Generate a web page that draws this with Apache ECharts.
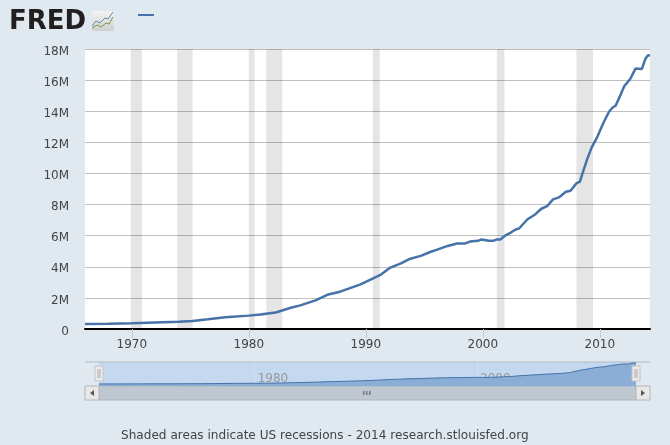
<!DOCTYPE html>
<html>
<head>
<meta charset="utf-8">
<style>
html, body { margin: 0; padding: 0; background: #e0e8f0; }
#mychart { width: 670px; height: 445px; }
</style>
<script src="https://cdn.jsdelivr.net/npm/echarts@6/dist/echarts.min.js"></script>
</head>
<body>
<div id="mychart"></div>
<script>
"use strict";
const years = [1966, 1968, 1970, 1972, 1974, 1975.2, 1976.5, 1978, 1980, 1981, 1982.3, 1983.6, 1984.4, 1985.7, 1986.8, 1987.8, 1989.5, 1990.4, 1991.3, 1992.1, 1993, 1993.8, 1994.7, 1995.5, 1996.1, 1997, 1997.8, 1998.5, 1998.9, 1999.6, 1999.9, 2000.5, 2000.9, 2001.2, 2001.5, 2001.9, 2002.4, 2002.8, 2003.1, 2003.8, 2004.5, 2005, 2005.5, 2006, 2006.5, 2007.1, 2007.5, 2008, 2008.3, 2008.5, 2008.9, 2009.3, 2009.8, 2010.3, 2010.8, 2011.1, 2011.35, 2011.8, 2012.1, 2012.6, 2013.05, 2013.6, 2013.9, 2014.1, 2014.29];
const values = [0.32, 0.34, 0.37, 0.42, 0.47, 0.51, 0.62, 0.75, 0.86, 0.93, 1.06, 1.37, 1.52, 1.84, 2.22, 2.4, 2.85, 3.17, 3.5, 3.95, 4.22, 4.52, 4.7, 4.95, 5.1, 5.34, 5.5, 5.5, 5.62, 5.67, 5.76, 5.67, 5.67, 5.76, 5.76, 6.0, 6.2, 6.4, 6.46, 7.04, 7.38, 7.73, 7.9, 8.33, 8.46, 8.82, 8.89, 9.36, 9.47, 9.95, 10.87, 11.66, 12.37, 13.24, 13.98, 14.24, 14.35, 15.1, 15.62, 16.07, 16.74, 16.72, 17.38, 17.58, 17.6];
const recessions = [[1969.9, 1970.87], [1973.87, 1975.2], [1980, 1980.5], [1981.5, 1982.87], [1990.6, 1991.2], [2001.2, 2001.85], [2008, 2009.42]];
const mainTicks = [1970, 1980, 1990, 2000, 2010];
const navTicks = [1980, 2000];
const footer = 'Shaded areas indicate US recessions - 2014 research.stlouisfed.org';

const container = document.getElementById('mychart');
const myChart = echarts.init(container);
const font = '"DejaVu Sans", Verdana, sans-serif';
const lineData = years.map((y, i) => [y, values[i]]);

const option = {
    animation: false,
    backgroundColor: '#e0e8f0',
    textStyle: { fontFamily: font },
    legend: {
        left: 138,
        top: 14,
        padding: 0,
        data: ['main'],
        icon: 'rect',
        itemWidth: 16,
        itemHeight: 2,
        formatter: () => '',
        selectedMode: false
    },
    grid: [
        { left: 85, right: 20, top: 49, height: 280, show: true, backgroundColor: '#fff', borderWidth: 0 },
        { left: 99, width: 537, top: 362, height: 24, show: true, backgroundColor: '#c4d8f0', borderWidth: 0 }
    ],
    xAxis: [
        {
            type: 'value',
            gridIndex: 0,
            min: 1966,
            max: 2014.29,
            splitLine: { show: false },
            axisLine: { onZero: false, lineStyle: { color: '#000', width: 2 } },
            axisTick: { length: 9, customValues: mainTicks, lineStyle: { color: '#c0d0e0' } },
            axisLabel: { customValues: mainTicks, color: '#444', fontSize: 12, margin: 10, formatter: v => String(v) }
        },
        {
            type: 'value',
            gridIndex: 1,
            min: 1966,
            max: 2014.29,
            axisLine: { show: false },
            axisTick: { show: false, customValues: navTicks },
            splitLine: { show: true, lineStyle: { color: '#d0dff2' } },
            axisLabel: {
                inside: true,
                customValues: navTicks,
                color: '#999',
                fontSize: 12,
                margin: 1,
                align: 'left',
                padding: [0, 0, 0, 3],
                formatter: v => String(v)
            }
        }
    ],
    yAxis: [
        {
            type: 'value',
            gridIndex: 0,
            min: 0,
            max: 18,
            interval: 2,
            axisLine: { show: false },
            axisTick: { show: false },
            splitLine: { lineStyle: { color: '#c0c0c0' } },
            axisLabel: {
                margin: 16,
                formatter: v => '{a|' + (v === 0 ? '0' : v + 'M') + '}',
                rich: { a: { color: '#444', fontSize: 12, padding: [5, 0, 0, 0] } }
            }
        },
        {
            type: 'value',
            gridIndex: 1,
            min: -1.4,
            max: 18.4,
            axisLine: { show: false },
            axisTick: { show: false },
            axisLabel: { show: false },
            splitLine: { show: false }
        }
    ],
    series: [
        {
            name: 'main',
            type: 'line',
            xAxisIndex: 0,
            yAxisIndex: 0,
            data: lineData,
            showSymbol: false,
            z: 5,
            lineStyle: { color: '#4572a7', width: 2.5 },
            itemStyle: { color: '#4572a7' },
            markArea: {
                silent: true,
                itemStyle: { color: 'rgba(0,0,0,0.1)' },
                data: recessions.map(r => [{ xAxis: r[0] }, { xAxis: r[1] }])
            }
        },
        {
            name: 'navigator',
            type: 'line',
            xAxisIndex: 1,
            yAxisIndex: 1,
            data: lineData,
            showSymbol: false,
            lineStyle: { color: '#4572a7', width: 1 },
            itemStyle: { color: '#4572a7' },
            areaStyle: { color: '#8aaed6', opacity: 1, origin: 'start' }
        }
    ],
    graphic: [
        // logo
        { type: 'text', left: 9, top: 9, style: { text: 'FRED', fontFamily: font, fontWeight: 'bold', fontSize: 26, fill: '#231f20' } },
        {
            type: 'rect',
            shape: { x: 92, y: 11, width: 22, height: 20, r: 2 },
            style: {
                fill: new echarts.graphic.LinearGradient(0, 0, 0, 1, [
                    { offset: 0, color: '#f4f4f4' },
                    { offset: 1, color: '#cfcfcf' }
                ])
            }
        },
        { type: 'polyline', shape: { points: [[92, 26], [96, 21], [100, 23], [105, 18], [108, 19], [113, 12]] }, style: { fill: null, stroke: '#5b8fb0', lineWidth: 1 } },
        { type: 'polyline', shape: { points: [[92, 28], [97, 25], [101, 27], [106, 23], [109, 24], [113, 17]] }, style: { fill: null, stroke: '#6f9a45', lineWidth: 1 } },
        // navigator frame
        { type: 'line', shape: { x1: 85, y1: 362, x2: 650, y2: 362 }, style: { stroke: '#b4b9bf', lineWidth: 1 } },
        // scrollbar
        { type: 'rect', shape: { x: 99, y: 386, width: 537, height: 14 }, style: { fill: '#bfc8d1', stroke: '#b2b6bb', lineWidth: 1 } },
        { type: 'rect', shape: { x: 85, y: 386, width: 14, height: 14 }, style: { fill: '#e8e8e8', stroke: '#b2b6bb', lineWidth: 1 } },
        { type: 'rect', shape: { x: 636, y: 386, width: 14, height: 14 }, style: { fill: '#e8e8e8', stroke: '#b2b6bb', lineWidth: 1 } },
        { type: 'polygon', shape: { points: [[94, 390], [94, 396], [90, 393]] }, style: { fill: '#555' } },
        { type: 'polygon', shape: { points: [[641, 390], [641, 396], [645, 393]] }, style: { fill: '#555' } },
        { type: 'rect', shape: { x: 363, y: 391, width: 1.5, height: 4 }, style: { fill: '#777' } },
        { type: 'rect', shape: { x: 366, y: 391, width: 1.5, height: 4 }, style: { fill: '#777' } },
        { type: 'rect', shape: { x: 369, y: 391, width: 1.5, height: 4 }, style: { fill: '#777' } },
        // navigator handles
        { type: 'rect', z: 10, shape: { x: 95, y: 366, width: 8, height: 15 }, style: { fill: '#ebebeb', stroke: '#c4c4c4', lineWidth: 1 } },
        { type: 'line', z: 11, shape: { x1: 98, y1: 369, x2: 98, y2: 378 }, style: { stroke: '#aaa', lineWidth: 1 } },
        { type: 'line', z: 11, shape: { x1: 100, y1: 369, x2: 100, y2: 378 }, style: { stroke: '#aaa', lineWidth: 1 } },
        { type: 'rect', z: 10, shape: { x: 632, y: 366, width: 8, height: 15 }, style: { fill: '#ebebeb', stroke: '#c4c4c4', lineWidth: 1 } },
        { type: 'line', z: 11, shape: { x1: 635, y1: 369, x2: 635, y2: 378 }, style: { stroke: '#aaa', lineWidth: 1 } },
        { type: 'line', z: 11, shape: { x1: 637, y1: 369, x2: 637, y2: 378 }, style: { stroke: '#aaa', lineWidth: 1 } },
        // footer
        { type: 'text', left: 121, top: 430, style: { text: footer, fontFamily: font, fontSize: 12.1, fill: '#444' } }
    ]
};
myChart.setOption(option);
</script>
</body>
</html>
